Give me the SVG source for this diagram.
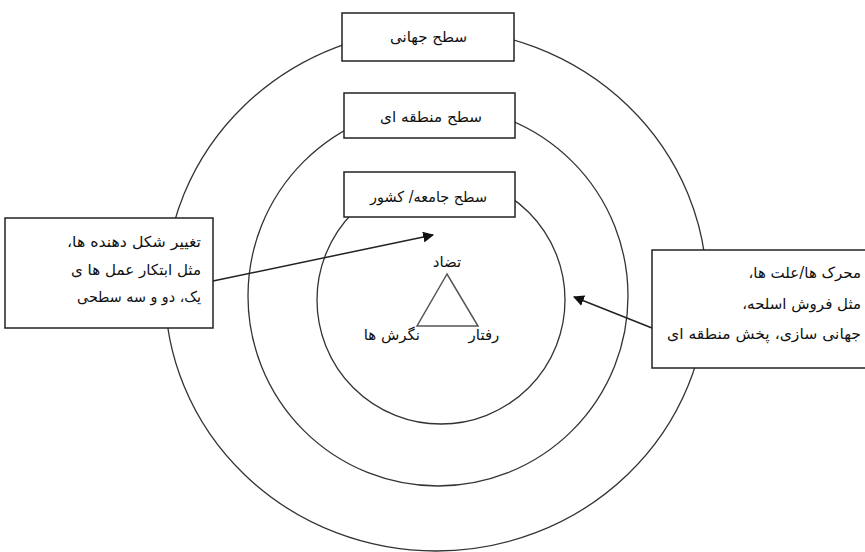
<svg xmlns="http://www.w3.org/2000/svg" width="865" height="552" viewBox="0 0 865 552">
<defs>
<style>
.ring{fill:none;stroke:#333;stroke-width:1.3}
.box{fill:#fff;stroke:#222;stroke-width:1.5}
.t{font-family:"DejaVu Sans",sans-serif;font-size:15px;fill:#111;direction:rtl;unicode-bidi:embed}
.conn{stroke:#222;stroke-width:1.5;fill:none}
</style>
<marker id="ah" viewBox="0 0 10 10" refX="9" refY="5" markerWidth="11" markerHeight="11" markerUnits="userSpaceOnUse" orient="auto">
<path d="M0,0 L10,5 L0,10 z" fill="#111"/>
</marker>
</defs>
<rect width="865" height="552" fill="#fff"/>
<g id="rings">
<ellipse class="ring" cx="436" cy="290" rx="271" ry="261"/>
<circle class="ring" cx="438" cy="296" r="190"/>
<circle class="ring" cx="441" cy="300" r="124"/>
</g>
<g id="global"><rect class="box" x="342" y="13" width="172" height="48"/><text class="t" x="428.5" y="42" direction="rtl" text-anchor="middle" textLength="77" lengthAdjust="spacingAndGlyphs">سطح جهانی</text></g>
<g id="regional"><rect class="box" x="344" y="93" width="171" height="45"/><text class="t" x="431" y="122" direction="rtl" text-anchor="middle" textLength="102" lengthAdjust="spacingAndGlyphs">سطح منطقه ای</text></g>
<g id="society"><rect class="box" x="344" y="172" width="171" height="45"/><text class="t" x="428.5" y="202" direction="rtl" text-anchor="middle" textLength="117" lengthAdjust="spacingAndGlyphs">سطح جامعه/ کشور</text></g>
<g id="left-box"><rect class="box" x="5" y="218" width="208" height="110"/>
<text class="t" x="134" y="247" direction="rtl" text-anchor="middle" textLength="134" lengthAdjust="spacingAndGlyphs">تغییر شکل دهنده ها،</text>
<text class="t" x="136" y="275" direction="rtl" text-anchor="middle" textLength="130" lengthAdjust="spacingAndGlyphs">مثل ابتکار عمل ها ی</text>
<text class="t" x="139" y="302" direction="rtl" text-anchor="middle" textLength="124" lengthAdjust="spacingAndGlyphs">یک، دو و سه سطحی</text>
</g>
<g id="right-box"><rect class="box" x="652" y="250" width="220" height="118"/>
<text class="t" x="861" y="278" direction="rtl" text-anchor="start">محرک ها/علت ها،</text>
<text class="t" x="861" y="309" direction="rtl" text-anchor="start">مثل فروش اسلحه،</text>
<text class="t" x="764" y="339" direction="rtl" text-anchor="middle" textLength="194" lengthAdjust="spacingAndGlyphs">جهانی سازی، پخش منطقه ای</text>
</g>
<g id="triangle">
<polygon points="447,274 417,326 478,326" fill="none" stroke="#555" stroke-width="1.5"/>
<text class="t" x="447" y="267" direction="rtl" text-anchor="middle">تضاد</text>
<text class="t" x="420" y="340" direction="rtl" text-anchor="start">نگرش ها</text>
<text class="t" x="484" y="340" direction="rtl" text-anchor="middle">رفتار</text>
</g>
<g id="connectors">
<line class="conn" x1="213" y1="281" x2="433" y2="235" marker-end="url(#ah)"/>
<line class="conn" x1="652" y1="328" x2="574" y2="297" marker-end="url(#ah)"/>
</g>
</svg>
